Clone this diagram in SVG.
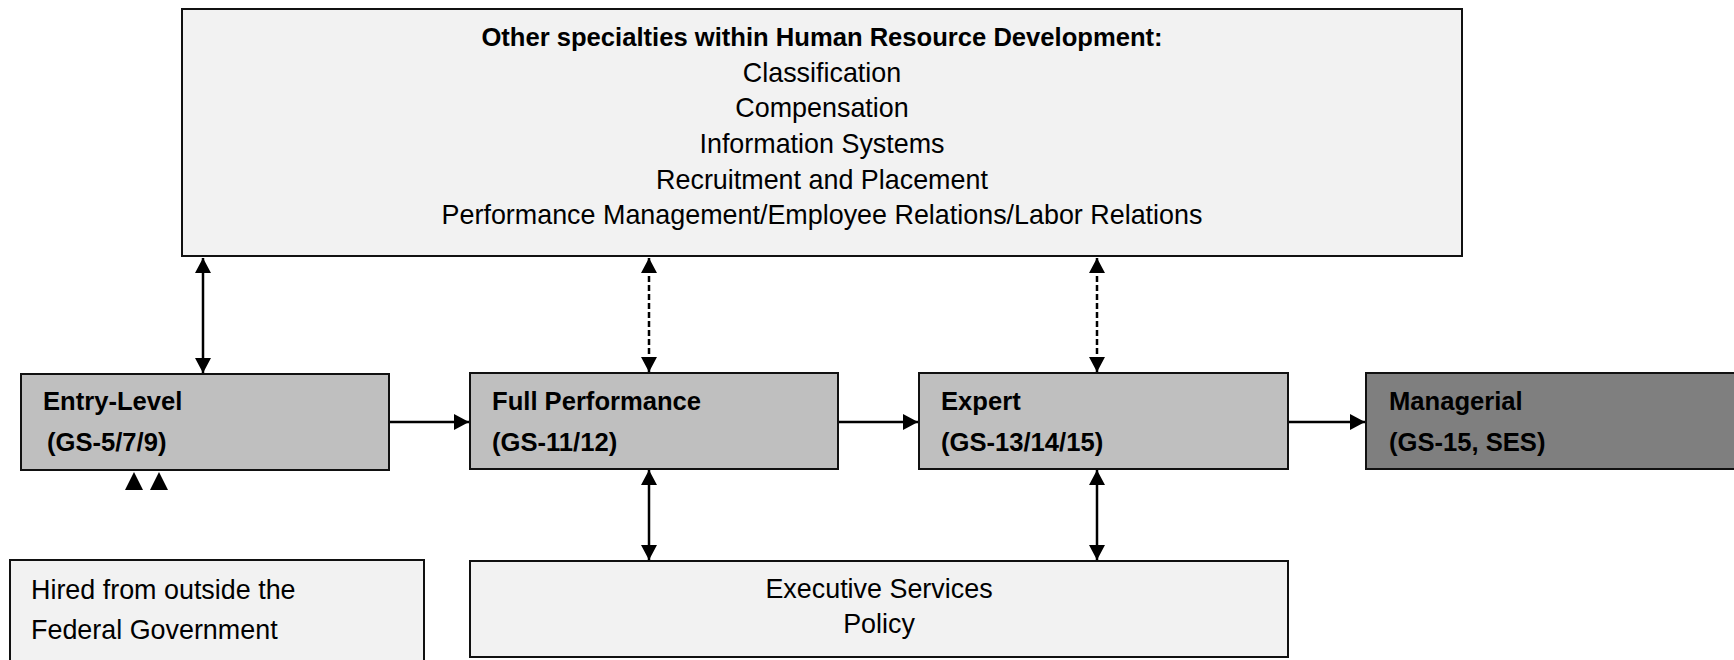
<svg xmlns="http://www.w3.org/2000/svg" width="1734" height="660" viewBox="0 0 1734 660">
  <style>
    .box { stroke: #111; stroke-width: 2; }
    .light { fill: #f2f2f2; }
    .mid { fill: #bfbfbf; }
    .dark { fill: #7f7f7f; }
    text { font-family: "Liberation Sans", Arial, sans-serif; fill: #000; }
    .reg { font-size: 26.9px; }
    .bold { font-size: 25.6px; font-weight: bold; }
    .conn { stroke: #000; stroke-width: 2.5; fill: none; }
    .dash { stroke-dasharray: 6 3; }
  </style>
  <defs>
    <marker id="arrow" viewBox="0 0 15 16" refX="15" refY="8" markerWidth="15" markerHeight="16" markerUnits="userSpaceOnUse" orient="auto-start-reverse">
      <path d="M0,0 L15,8 L0,16 z" fill="#000"/>
    </marker>
  </defs>

  <g id="node-specialties">
    <rect class="box light" x="182" y="9" width="1280" height="247"/>
    <text class="bold" x="822" y="46" text-anchor="middle">Other specialties within Human Resource Development:</text>
    <text class="reg" x="822" y="82" text-anchor="middle">Classification</text>
    <text class="reg" x="822" y="117" text-anchor="middle">Compensation</text>
    <text class="reg" x="822" y="153" text-anchor="middle">Information Systems</text>
    <text class="reg" x="822" y="189" text-anchor="middle">Recruitment and Placement</text>
    <text class="reg" x="822" y="224" text-anchor="middle">Performance Management/Employee Relations/Labor Relations</text>
  </g>

  <g id="node-entry">
    <rect class="box mid" x="21" y="374" width="368" height="96"/>
    <text class="bold" x="43" y="410">Entry-Level</text>
    <text class="bold" x="47" y="451">(GS-5/7/9)</text>
  </g>

  <g id="node-full">
    <rect class="box mid" x="470" y="373" width="368" height="96"/>
    <text class="bold" x="492" y="410">Full Performance</text>
    <text class="bold" x="492" y="451">(GS-11/12)</text>
  </g>

  <g id="node-expert">
    <rect class="box mid" x="919" y="373" width="369" height="96"/>
    <text class="bold" x="941" y="410">Expert</text>
    <text class="bold" x="941" y="451">(GS-13/14/15)</text>
  </g>

  <g id="node-managerial">
    <rect class="box dark" x="1366" y="373" width="380" height="96"/>
    <text class="bold" x="1389" y="410">Managerial</text>
    <text class="bold" x="1389" y="451">(GS-15, SES)</text>
  </g>

  <g id="node-executive">
    <rect class="box light" x="470" y="561" width="818" height="96"/>
    <text class="reg" x="879" y="598" text-anchor="middle">Executive Services</text>
    <text class="reg" x="879" y="633" text-anchor="middle">Policy</text>
  </g>

  <g id="node-hired">
    <rect class="box light" x="10" y="560" width="414" height="110"/>
    <text class="reg" x="31" y="599">Hired from outside the</text>
    <text class="reg" x="31" y="639">Federal Government</text>
  </g>

  <g id="connectors">
    <line class="conn" x1="203" y1="258" x2="203" y2="373" marker-start="url(#arrow)" marker-end="url(#arrow)"/>
    <line class="conn dash" x1="649" y1="258" x2="649" y2="372" marker-start="url(#arrow)" marker-end="url(#arrow)"/>
    <line class="conn dash" x1="1097" y1="258" x2="1097" y2="372" marker-start="url(#arrow)" marker-end="url(#arrow)"/>
    <line class="conn" x1="649" y1="470" x2="649" y2="560" marker-start="url(#arrow)" marker-end="url(#arrow)"/>
    <line class="conn" x1="1097" y1="470" x2="1097" y2="560" marker-start="url(#arrow)" marker-end="url(#arrow)"/>
    <line class="conn" x1="390" y1="422" x2="469" y2="422" marker-end="url(#arrow)"/>
    <line class="conn" x1="839" y1="422" x2="918" y2="422" marker-end="url(#arrow)"/>
    <line class="conn" x1="1289" y1="422" x2="1365" y2="422" marker-end="url(#arrow)"/>
    <polygon points="125,490 134,472 143,490" fill="#000"/>
    <polygon points="150,490 159,472 168,490" fill="#000"/>
  </g>
</svg>
